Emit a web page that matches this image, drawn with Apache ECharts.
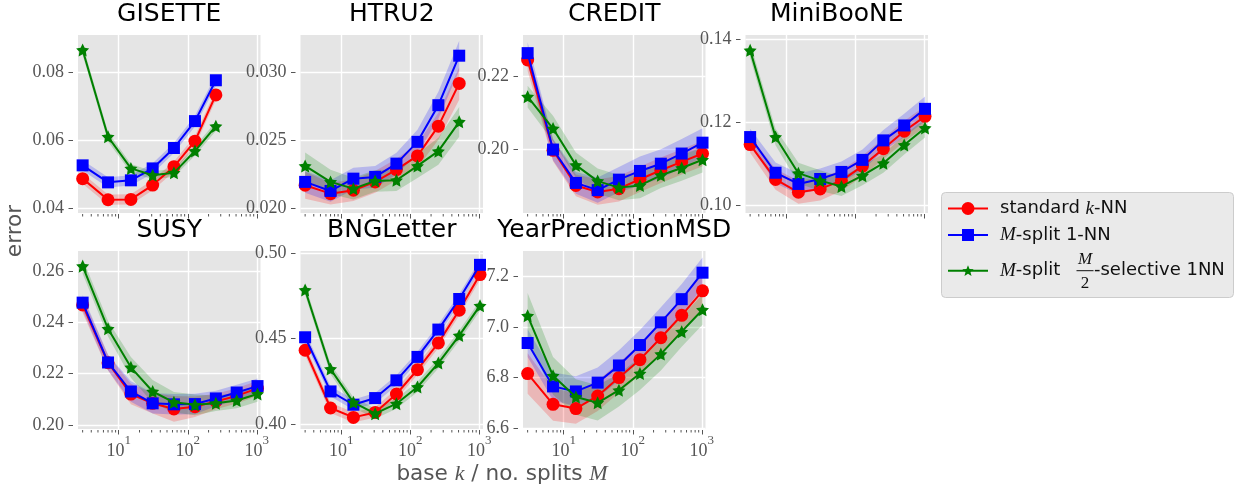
<!DOCTYPE html>
<html><head><meta charset="utf-8">
<script src="https://cdn.jsdelivr.net/npm/echarts@6/dist/echarts.min.js"></script>
<style>html,body{margin:0;padding:0;background:#fff}#c{width:1236px;height:488px}</style>
</head><body><div id="c"></div>
<script>
// ---------- data ----------
const xValues = [3, 7, 15, 31, 63, 127, 255, 511, 1023];
const xTickValues = [10, 100, 1000];
const titles = ['GISETTE', 'HTRU2', 'CREDIT', 'MiniBooNE', 'SUSY', 'BNGLetter', 'YearPredictionMSD'];
const legendNames = ['standard k-NN', 'M-split 1-NN', 'M-split M/2-selective 1NN'];

const gisetteKnn   = [0.0488, 0.0426, 0.0427, 0.0469, 0.0523, 0.0598, 0.0734];
const gisetteSplit = [0.0527, 0.0477, 0.0483, 0.0518, 0.0578, 0.0657, 0.0777];
const gisetteSel   = [0.0866, 0.0611, 0.0518, 0.0498, 0.0505, 0.0569, 0.0642];
const gisetteKnnErr   = [0.0015, 0.0015, 0.0015, 0.0015, 0.0015, 0.0015, 0.0015];
const gisetteSplitErr = [0.0015, 0.0015, 0.0015, 0.0015, 0.0015, 0.0016, 0.0016];
const gisetteSelErr   = [0.0015, 0.0014, 0.0013, 0.0012, 0.0012, 0.0013, 0.0014];
const gisetteTicks = [0.04, 0.06, 0.08];

const htruKnn   = [0.02168, 0.02106, 0.02131, 0.02193, 0.02284, 0.02385, 0.02605, 0.02921];
const htruSplit = [0.02193, 0.02126, 0.02217, 0.02230, 0.02328, 0.02489, 0.02760, 0.03126];
const htruSel   = [0.02311, 0.02193, 0.02143, 0.02200, 0.02205, 0.02311, 0.02420, 0.02637];
const htruKnnErr   = [0.0010, 0.0008, 0.0008, 0.0008, 0.0008, 0.0009, 0.0010, 0.0012];
const htruSplitErr = [0.0008, 0.0008, 0.0008, 0.0008, 0.0008, 0.0009, 0.0010, 0.0011];
const htruSelErr   = [0.0010, 0.0009, 0.0008, 0.0008, 0.0008, 0.0009, 0.0010, 0.0011];
const htruTicks = [0.020, 0.025, 0.030];

const creditKnn   = [0.2246, 0.1997, 0.1900, 0.1882, 0.1891, 0.1917, 0.1942, 0.1965, 0.1988];
const creditSplit = [0.2265, 0.1999, 0.1907, 0.1887, 0.1916, 0.1940, 0.1960, 0.1988, 0.2018];
const creditSel   = [0.2145, 0.2057, 0.1956, 0.1912, 0.1894, 0.1900, 0.1928, 0.1948, 0.1971];
const creditKnnErr   = [0.0030, 0.0030, 0.0030, 0.0035, 0.0035, 0.0035, 0.0035, 0.0035, 0.0035];
const creditSplitErr = [0.0030, 0.0030, 0.0030, 0.0035, 0.0035, 0.0040, 0.0040, 0.0040, 0.0040];
const creditSelErr   = [0.0030, 0.0035, 0.0035, 0.0035, 0.0035, 0.0035, 0.0035, 0.0035, 0.0035];
const creditTicks = [0.20, 0.22];

const minibooneKnn   = [0.1146, 0.1062, 0.1031, 0.1039, 0.1059, 0.1094, 0.1136, 0.1178, 0.1214];
const minibooneSplit = [0.1164, 0.1078, 0.1051, 0.1063, 0.1080, 0.1109, 0.1156, 0.1192, 0.1232];
const minibooneSel   = [0.1373, 0.1164, 0.1077, 0.1059, 0.1045, 0.1071, 0.1101, 0.1145, 0.1186];
const minibooneKnnErr   = [0.0020, 0.0025, 0.0028, 0.0028, 0.0025, 0.0025, 0.0025, 0.0025, 0.0025];
const minibooneSplitErr = [0.0020, 0.0025, 0.0025, 0.0025, 0.0025, 0.0025, 0.0025, 0.0028, 0.0030];
const minibooneSelErr   = [0.0018, 0.0020, 0.0025, 0.0025, 0.0023, 0.0023, 0.0023, 0.0023, 0.0023];
const minibooneTicks = [0.10, 0.12, 0.14];

const susyKnn   = [0.2467, 0.2242, 0.2120, 0.2084, 0.2062, 0.2071, 0.2091, 0.2113, 0.2142];
const susySplit = [0.2476, 0.2243, 0.2130, 0.2084, 0.2080, 0.2081, 0.2103, 0.2126, 0.2151];
const susySel   = [0.2618, 0.2374, 0.2224, 0.2130, 0.2088, 0.2078, 0.2084, 0.2095, 0.2120];
const susyKnnErr   = [0.0030, 0.0030, 0.0040, 0.0040, 0.0050, 0.0040, 0.0030, 0.0030, 0.0030];
const susySplitErr = [0.0030, 0.0030, 0.0040, 0.0040, 0.0040, 0.0040, 0.0030, 0.0030, 0.0030];
const susySelErr   = [0.0030, 0.0030, 0.0040, 0.0045, 0.0040, 0.0040, 0.0030, 0.0030, 0.0030];
const susyTicks = [0.20, 0.22, 0.24, 0.26];

const bngKnn   = [0.4432, 0.4094, 0.4039, 0.4068, 0.4176, 0.4318, 0.4475, 0.4666, 0.4875];
const bngSplit = [0.4508, 0.4191, 0.4113, 0.4152, 0.4256, 0.4393, 0.4553, 0.4732, 0.4932];
const bngSel   = [0.4785, 0.4322, 0.4127, 0.4061, 0.4119, 0.4217, 0.4357, 0.4518, 0.4693];
const bngKnnErr   = [0.003, 0.003, 0.003, 0.003, 0.003, 0.003, 0.003, 0.003, 0.003];
const bngSplitErr = [0.003, 0.003, 0.003, 0.003, 0.003, 0.003, 0.003, 0.003, 0.003];
const bngSelErr   = [0.003, 0.003, 0.003, 0.003, 0.003, 0.003, 0.003, 0.003, 0.003];
const bngTicks = [0.40, 0.45, 0.50];

const yearKnn   = [6.816, 6.694, 6.677, 6.727, 6.800, 6.871, 6.958, 7.047, 7.144];
const yearSplit = [6.937, 6.765, 6.745, 6.780, 6.848, 6.929, 7.019, 7.111, 7.216];
const yearSel   = [7.045, 6.807, 6.723, 6.700, 6.750, 6.816, 6.893, 6.982, 7.069];
const yearKnnErr   = [0.080, 0.065, 0.060, 0.060, 0.060, 0.060, 0.060, 0.065, 0.070];
const yearSplitErr = [0.055, 0.055, 0.060, 0.060, 0.060, 0.060, 0.060, 0.060, 0.060];
const yearSelErr   = [0.090, 0.075, 0.070, 0.070, 0.065, 0.065, 0.065, 0.060, 0.060];
const yearTicks = [6.6, 6.8, 7.0, 7.2];

// ---------- layout / styling ----------
const panels = [
  {knn: gisetteKnn, split: gisetteSplit, sel: gisetteSel, errs: [gisetteKnnErr, gisetteSplitErr, gisetteSelErr], ticks: gisetteTicks, min: 0.0387, max: 0.0910, dec: 2},
  {knn: htruKnn, split: htruSplit, sel: htruSel, errs: [htruKnnErr, htruSplitErr, htruSelErr], ticks: htruTicks, min: 0.01963, max: 0.03279, dec: 3},
  {knn: creditKnn, split: creditSplit, sel: creditSel, errs: [creditKnnErr, creditSplitErr, creditSelErr], ticks: creditTicks, min: 0.1824, max: 0.2315, dec: 2},
  {knn: minibooneKnn, split: minibooneSplit, sel: minibooneSel, errs: [minibooneKnnErr, minibooneSplitErr, minibooneSelErr], ticks: minibooneTicks, min: 0.0981, max: 0.1410, dec: 2},
  {knn: susyKnn, split: susySplit, sel: susySel, errs: [susyKnnErr, susySplitErr, susySelErr], ticks: susyTicks, min: 0.1984, max: 0.2677, dec: 2},
  {knn: bngKnn, split: bngSplit, sel: bngSel, errs: [bngKnnErr, bngSplitErr, bngSelErr], ticks: bngTicks, min: 0.3971, max: 0.5013, dec: 2},
  {knn: yearKnn, split: yearSplit, sel: yearSel, errs: [yearKnnErr, yearSplitErr, yearSelErr], ticks: yearTicks, min: 6.596, max: 7.302, dec: 1}
];
const colLeft = [78, 300.5, 523, 745.5];
const rowTop = [35, 251];
const GW = 182.5, GH = 178;
const X_MIN = 2.57, X_MAX = 1130;
const COLORS = ['#FF0000', '#0000FF', '#008000'];
const BANDS = ['rgba(255,0,0,0.2)', 'rgba(0,0,255,0.2)', 'rgba(0,128,0,0.2)'];
const STAR = 'path://M0,-10L2.94,-4.05L9.51,-3.09L4.76,1.55L5.88,8.09L0,5L-5.88,8.09L-4.76,1.55L-9.51,-3.09L-2.94,-4.05Z';
const SYMBOLS = ['circle', 'rect', STAR];
const SYMSIZE = [13, 12, 13];
const TICK = '#555555';
const SERIF = 'Liberation Serif';

const grids = [], xAxes = [], yAxes = [], series = [];
panels.forEach((p, i) => {
  const row = i < 4 ? 0 : 1, col = i < 4 ? i : i - 4;
  grids.push({left: colLeft[col], top: rowTop[row], width: GW, height: GH, show: true,
    backgroundColor: '#E5E5E5', borderWidth: 0, containLabel: false, outerBoundsMode: 'none'});
  xAxes.push({type: 'log', logBase: 10, gridIndex: i, min: X_MIN, max: X_MAX, offset: 1,
    axisLine: {show: false},
    axisTick: {show: true, length: 4.5, lineStyle: {color: TICK, width: 1}, customValues: xTickValues},
    splitLine: {show: true, lineStyle: {color: '#FFFFFF', width: 1.4}, customValues: xTickValues},
    axisLabel: {show: row === 1, customValues: xTickValues, margin: 4,
      formatter: v => { const e = Math.round(Math.log10(v)); if (Math.abs(Math.pow(10, e) - v) > 1e-6 * v) return ''; return '{b|10}{s|' + e + '}'; },
      rich: {b: {fontFamily: SERIF, fontSize: 18, color: TICK, lineHeight: 26, verticalAlign: 'bottom'},
             s: {fontFamily: SERIF, fontSize: 13, color: TICK, lineHeight: 14, verticalAlign: 'top'}}}
  });
  const interval = Math.round((p.ticks[1] - p.ticks[0]) * 1e6) / 1e6;
  yAxes.push({type: 'value', gridIndex: i, min: p.min, max: p.max, minInterval: interval, maxInterval: interval, offset: 5,
    axisLine: {show: false},
    axisTick: {show: true, length: 4.5, lineStyle: {color: TICK, width: 1}, customValues: p.ticks},
    splitLine: {show: true, lineStyle: {color: '#FFFFFF', width: 1.4}, customValues: p.ticks},
    axisLabel: {customValues: p.ticks, margin: 9, fontFamily: SERIF, fontSize: 18, color: TICK,
      formatter: v => { const k = Math.round(v / interval); if (Math.abs(k * interval - v) > interval * 1e-4) return ''; return v.toFixed(p.dec); }}
  });
  const n = p.knn.length;
  const xs = xValues.slice(0, n);
  const means = [p.knn, p.split, p.sel];
  means.forEach((m, k) => {
    const err = p.errs[k];
    const data = xs.map((x, j) => [x, m[j] - err[j], m[j] + err[j]]);
    series.push({type: 'custom', xAxisIndex: i, yAxisIndex: i, data: data, silent: true, z: 1,
      encode: {x: 0, y: [1, 2]},
      renderItem: (params, api) => {
        if (params.dataIndex !== 0) return null;
        const up = data.map(d => api.coord([d[0], d[2]]));
        const lo = data.map(d => api.coord([d[0], d[1]])).reverse();
        return {type: 'polygon', shape: {points: up.concat(lo)}, style: {fill: BANDS[k]}};
      }});
  });
  means.forEach((m, k) => {
    series.push({type: 'line', name: legendNames[k], xAxisIndex: i, yAxisIndex: i, z: 3 + k,
      data: xs.map((x, j) => [x, m[j]]), symbol: SYMBOLS[k], symbolSize: SYMSIZE[k], showSymbol: true,
      lineStyle: {color: COLORS[k], width: 2}, itemStyle: {color: COLORS[k], borderWidth: 0}, silent: true});
  });
});

const chart = echarts.init(document.getElementById('c'), null, {renderer: 'canvas'});
chart.setOption({animation: false, backgroundColor: '#FFFFFF', grid: grids, xAxis: xAxes, yAxis: yAxes, series: series});

// ---------- decorations: titles, labels, minor ticks, legend ----------
const g = [];
panels.forEach((p, i) => {
  const row = i < 4 ? 0 : 1, col = i < 4 ? i : i - 4;
  g.push({type: 'text', x: colLeft[col] + GW / 2, y: rowTop[row] - 21, silent: true,
    style: {text: titles[i], fontFamily: 'DejaVu Sans', fontSize: 25, fill: '#000', align: 'center', verticalAlign: 'middle'}});
  const minors = [];
  for (let e = 0; e < 4; e++) for (let d = 2; d <= 9; d++) { const v = d * Math.pow(10, e); if (v > X_MIN && v < X_MAX) minors.push(v); }
  const yb = rowTop[row] + GH + 1;
  minors.forEach(v => {
    const px = chart.convertToPixel({xAxisIndex: i}, v);
    g.push({type: 'line', silent: true, shape: {x1: px, y1: yb, x2: px, y2: yb + 2.5}, style: {stroke: TICK, lineWidth: 1}});
  });
});
g.push({type: 'text', x: 15, y: 231, rotation: Math.PI / 2, silent: true,
  style: {text: 'error', fontFamily: 'DejaVu Sans', fontSize: 21.6, fill: TICK, align: 'center', verticalAlign: 'middle'}});
g.push({type: 'text', x: 502, y: 474, silent: true,
  style: {text: 'base {i|k} / no. splits {i|M}', fontFamily: 'DejaVu Sans', fontSize: 21.6, fill: TICK, align: 'center', verticalAlign: 'middle',
    rich: {i: {fontFamily: SERIF, fontStyle: 'italic', fontSize: 22, fill: TICK}}}});

// legend
const LX = 941.5, LY = 192.5;
g.push({type: 'rect', silent: true, shape: {x: LX, y: LY, width: 292, height: 105, r: 4},
  style: {fill: '#EAEAEA', stroke: '#CCCCCC', lineWidth: 1}});
const rowsY = [208.5, 235, 270.7];
function starPts(cx, cy, R, r) {
  const pts = [];
  for (let k = 0; k < 10; k++) { const a = -Math.PI / 2 + k * Math.PI / 5; const rr = k % 2 ? r : R; pts.push([cx + rr * Math.cos(a), cy + rr * Math.sin(a)]); }
  return pts;
}
rowsY.forEach((y, k) => {
  g.push({type: 'line', silent: true, shape: {x1: 948, y1: y, x2: 988, y2: y}, style: {stroke: COLORS[k], lineWidth: 2}});
});
g.push({type: 'circle', silent: true, shape: {cx: 968, cy: rowsY[0], r: 6.5}, style: {fill: COLORS[0]}});
g.push({type: 'rect', silent: true, shape: {x: 962, y: rowsY[1] - 6, width: 12, height: 12}, style: {fill: COLORS[1]}});
g.push({type: 'polygon', silent: true, shape: {points: starPts(968, rowsY[2] + 0.5, 6, 2.6)}, style: {fill: COLORS[2]}});
const LEGFONT = {fontFamily: 'DejaVu Sans', fontSize: 18, fill: '#111'};
const ITAL = {fontFamily: SERIF, fontStyle: 'italic', fontSize: 19, fill: '#111'};
g.push({type: 'text', x: 1000, y: rowsY[0], silent: true, style: Object.assign({text: 'standard {i|k}-NN', verticalAlign: 'middle', rich: {i: ITAL}}, LEGFONT)});
g.push({type: 'text', x: 1000, y: rowsY[1], silent: true, style: Object.assign({text: '{i|M}-split 1-NN', verticalAlign: 'middle', rich: {i: ITAL}}, LEGFONT)});
g.push({type: 'text', x: 1000, y: rowsY[2], silent: true, style: Object.assign({text: '{i|M}-split', verticalAlign: 'middle', rich: {i: ITAL}}, LEGFONT)});
g.push({type: 'text', x: 1085, y: rowsY[2] - 11.5, silent: true, style: Object.assign({}, ITAL, {text: 'M', fontSize: 17, align: 'center', verticalAlign: 'middle'})});
g.push({type: 'line', silent: true, shape: {x1: 1076.5, y1: rowsY[2], x2: 1093.5, y2: rowsY[2]}, style: {stroke: '#111', lineWidth: 1}});
g.push({type: 'text', x: 1085, y: rowsY[2] + 12.5, silent: true, style: Object.assign({}, ITAL, {text: '2', fontStyle: 'normal', fontSize: 17, align: 'center', verticalAlign: 'middle'})});
g.push({type: 'text', x: 1094, y: rowsY[2], silent: true, style: Object.assign({text: '-selective 1NN', verticalAlign: 'middle'}, LEGFONT)});

chart.setOption({graphic: g});
</script></body></html>
